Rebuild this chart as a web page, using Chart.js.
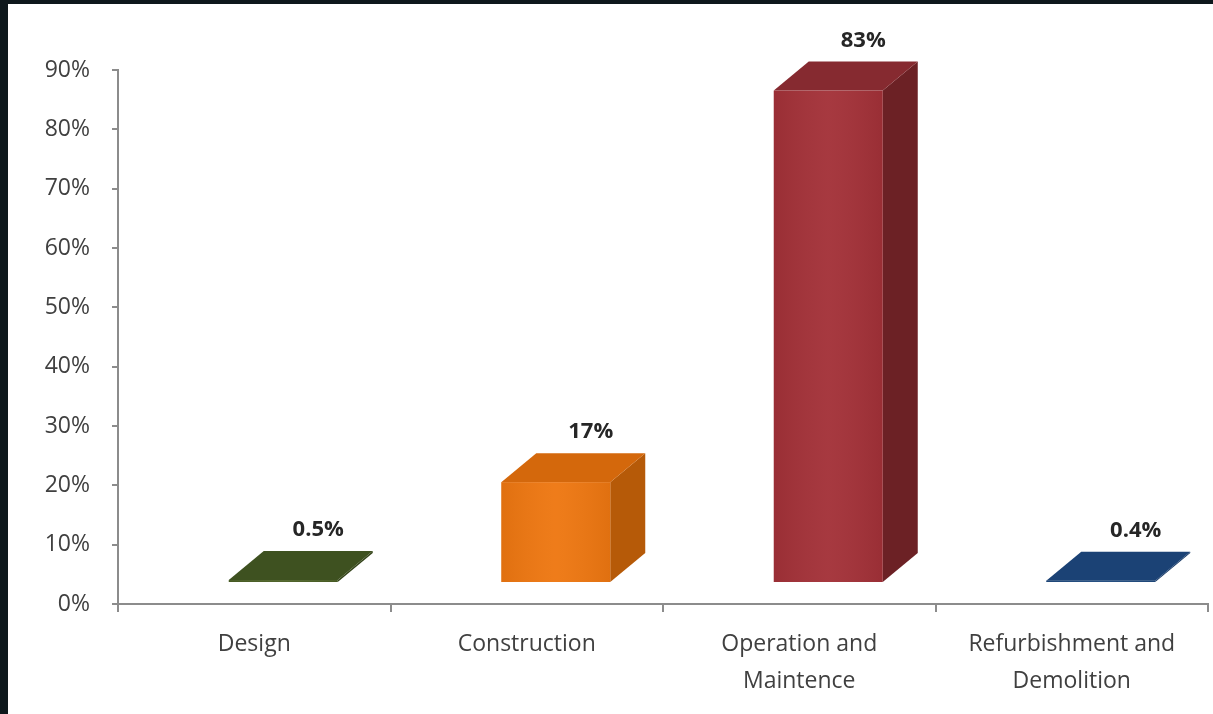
<!DOCTYPE html>
<html>
<head>
<meta charset="utf-8">
<script src="https://cdn.jsdelivr.net/npm/chart.js@4.4.1/dist/chart.umd.min.js"></script>
<style>
  html, body { margin: 0; padding: 0; }
  body { width: 1213px; height: 714px; background: #0e181c; position: relative; overflow: hidden; }
  #frame { position: absolute; left: 8px; top: 4px; width: 1205px; height: 710px; background: #ffffff; }
</style>
</head>
<body>
<div id="frame"><canvas id="chart"></canvas></div>
<script>
// data
const stages = [['Design'], ['Construction'], ['Operation and', 'Maintence'], ['Refurbishment and', 'Demolition']];
const shares = [0.5, 17, 83, 0.4];
const yTicks = [0, 10, 20, 30, 40, 50, 60, 70, 80, 90];

// face colours for the fake 3D columns
const frontColors = ['#4a5f24', '#ee7711', '#a33138', '#1f4a7e'];
const topColors = ['#3e5120', '#d4680c', '#862a30', '#1b4275'];
const sideColors = ['#34441a', '#b65a08', '#6c2125', '#163865'];

const SHIFT_X = 29;   // front face sits right of the category centre
const LIFT = 21;      // and above the axis (floor of the 3D box)
const DEPTH_X = 35;
const DEPTH_Y = 29;

const bar3d = {
  id: 'bar3d',
  afterDatasetsDraw(chart) {
    const ctx = chart.ctx;
    const meta = chart.getDatasetMeta(0);
    meta.data.forEach((bar, i) => {
      const { x, y, base, width } = bar.getProps(['x', 'y', 'base', 'width'], true);
      const l = x - width / 2 + SHIFT_X;
      const r = x + width / 2 + SHIFT_X;
      const t = y - LIFT;
      const b = base - LIFT;
      ctx.save();
      // side
      ctx.fillStyle = sideColors[i];
      ctx.beginPath();
      ctx.moveTo(r, t);
      ctx.lineTo(r + DEPTH_X, t - DEPTH_Y);
      ctx.lineTo(r + DEPTH_X, b - DEPTH_Y);
      ctx.lineTo(r, b);
      ctx.closePath();
      ctx.fill();
      // top
      ctx.fillStyle = topColors[i];
      ctx.beginPath();
      ctx.moveTo(l, t);
      ctx.lineTo(l + DEPTH_X, t - DEPTH_Y);
      ctx.lineTo(r + DEPTH_X, t - DEPTH_Y);
      ctx.lineTo(r, t);
      ctx.closePath();
      ctx.fill();
      // front, a touch lighter in the middle
      ctx.fillStyle = frontColors[i];
      ctx.fillRect(l, t, r - l, b - t);
      const g = ctx.createLinearGradient(l, 0, r, 0);
      g.addColorStop(0, 'rgba(0,0,0,0.06)');
      g.addColorStop(0.5, 'rgba(255,255,255,0.04)');
      g.addColorStop(1, 'rgba(0,0,0,0.06)');
      ctx.fillStyle = g;
      ctx.fillRect(l, t, r - l, b - t);
      // value label
      ctx.fillStyle = '#262626';
      ctx.font = 'bold 22px "Open Sans"';
      ctx.textAlign = 'center';
      ctx.textBaseline = 'middle';
      ctx.fillText(shares[i] + '%', x + SHIFT_X + DEPTH_X, t - DEPTH_Y - 21);
      ctx.restore();
    });
  }
};

const axisGrey = '#8c8c8c';

new Chart(document.getElementById('chart'), {
  type: 'bar',
  data: {
    labels: stages,
    datasets: [{
      data: shares,
      backgroundColor: 'rgba(0,0,0,0)',
      barPercentage: 0.4,
      categoryPercentage: 1
    }]
  },
  options: {
    responsive: true,
    maintainAspectRatio: false,
    animation: false,
    layout: { padding: { top: 66, right: 5, left: 0, bottom: 0 } },
    plugins: {
      legend: { display: false },
      tooltip: { enabled: false }
    },
    scales: {
      x: {
        grid: { drawOnChartArea: false, drawTicks: true, tickLength: 8, color: axisGrey, lineWidth: 2 },
        border: { display: true, color: axisGrey, width: 2 },
        ticks: {
          color: '#404040',
          padding: 14,
          maxRotation: 0,
          autoSkip: false,
          font: { family: 'Open Sans', size: 23, lineHeight: 1.6 }
        },
        afterFit(scale) { scale.height = 110; }
      },
      y: {
        min: 0,
        max: 90,
        afterBuildTicks(scale) { scale.ticks = yTicks.map(v => ({ value: v })); },
        grid: { drawOnChartArea: false, drawTicks: true, tickLength: 6, color: axisGrey, lineWidth: 2 },
        border: { display: true, color: axisGrey, width: 2 },
        ticks: {
          color: '#404040',
          padding: 22,
          font: { family: 'Open Sans', size: 23 },
          callback: v => v + '%'
        },
        afterFit(scale) { scale.width = 110; }
      }
    }
  },
  plugins: [bar3d]
});
</script>
</body>
</html>
